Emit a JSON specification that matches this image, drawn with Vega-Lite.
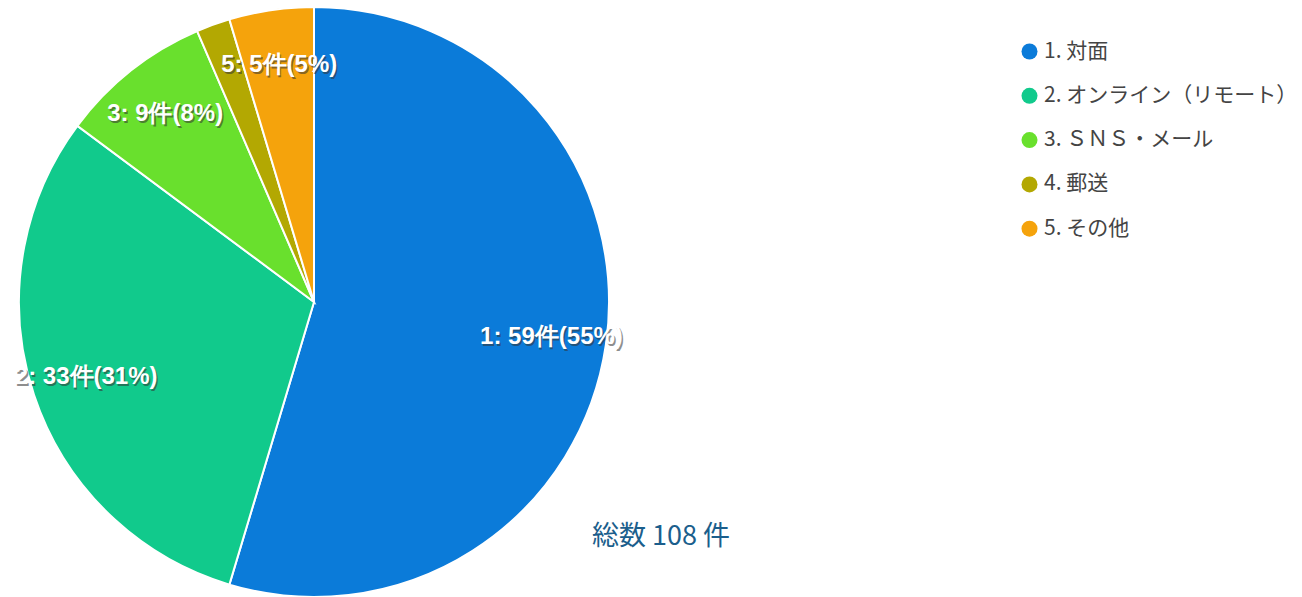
{
  "$schema": "https://vega.github.io/schema/vega-lite/v6.json",
  "width": 628,
  "height": 590,
  "autosize": {"type": "none"},
  "padding": {"left": 0, "top": 7, "right": 674, "bottom": 0},
  "background": "white",
  "view": {"stroke": null},
  "title": {
    "text": "総数 108 件",
    "orient": "bottom",
    "anchor": "start",
    "frame": "group",
    "dx": 592,
    "offset": -77,
    "font": "Noto Sans CJK JP",
    "fontSize": 27,
    "fontWeight": "normal",
    "color": "#1b5e8c"
  },
  "data": {
    "values": [
      {"cat": "1. 対面", "n": 59, "order": 1, "label": "1: 59件(55%)"},
      {"cat": "2. オンライン（リモート）", "n": 33, "order": 2, "label": "2: 33件(31%)"},
      {"cat": "3. ＳＮＳ・メール", "n": 9, "order": 3, "label": "3: 9件(8%)"},
      {"cat": "4. 郵送", "n": 2, "order": 4, "label": ""},
      {"cat": "5. その他", "n": 5, "order": 5, "label": "5: 5件(5%)"}
    ]
  },
  "encoding": {
    "theta": {"field": "n", "type": "quantitative", "stack": true},
    "order": {"field": "order", "type": "quantitative"}
  },
  "layer": [
    {
      "mark": {"type": "arc", "outerRadius": 295, "stroke": "white", "strokeWidth": 2},
      "encoding": {
        "color": {
          "field": "cat",
          "type": "nominal",
          "sort": null,
          "scale": {
            "domain": ["1. 対面", "2. オンライン（リモート）", "3. ＳＮＳ・メール", "4. 郵送", "5. その他"],
            "range": ["#0b7bd9", "#11ca8c", "#69e02d", "#b3a802", "#f5a30c"]
          },
          "legend": {
            "orient": "none",
            "legendX": 1019,
            "legendY": 34,
            "title": null,
            "symbolType": "circle",
            "symbolSize": 256,
            "symbolStrokeWidth": 0,
            "labelFontSize": 21,
            "labelFont": "Noto Sans CJK JP",
            "labelColor": "#444444",
            "labelLimit": 400,
            "labelOffset": 4,
            "rowPadding": 22.3
          }
        }
      }
    },
    {
      "mark": {"type": "text", "radius": 240, "fontSize": 24, "fontWeight": "bold", "font": "Liberation Sans", "dx": 1.5, "dy": 2, "opacity": 0.55},
      "encoding": {
        "text": {"field": "label"},
        "color": {"value": "#333333"}
      }
    },
    {
      "mark": {"type": "text", "radius": 240, "fontSize": 24, "fontWeight": "bold", "font": "Liberation Sans"},
      "encoding": {
        "text": {"field": "label"},
        "color": {"value": "white"}
      }
    }
  ]
}
